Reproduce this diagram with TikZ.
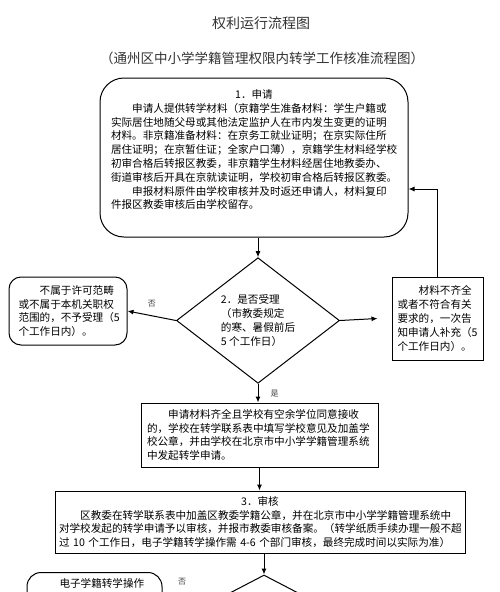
\documentclass[tikz,border=0pt]{standalone}
\usepackage{fontspec}
\setmainfont{Noto Sans CJK SC}
\usetikzlibrary{shapes.geometric,arrows.meta}

\begin{document}
\begin{tikzpicture}[x=1pt, y=-1pt, line width=1pt,
  txt/.style={font=\fontsize{10.6}{13.8}\selectfont, align=left, inner sep=0pt},
  box/.style={draw, rectangle, inner sep=0pt},
  roundbox/.style={draw, rectangle, rounded corners=18pt, inner sep=0pt},
  decision/.style={draw, diamond, inner sep=0pt},
  arr/.style={-{Latex[length=6pt,width=5pt]}},
  small/.style={font=\fontsize{8}{9}\selectfont, text=black!75}]
	\useasboundingbox (0,0) rectangle (500,592);
	\clip (0,0) rectangle (500,592);

	% titles
	\node[font=\fontsize{14}{16}\selectfont, text=black!80] (title) at (261,23) {权利运行流程图};
	\node[font=\fontsize{13.5}{15}\selectfont, text=black!80] (subtitle) at (262,58) {（通州区中小学学籍管理权限内转学工作核准流程图）};

	% 1. apply
	\node[roundbox, rounded corners=24pt, minimum width=308pt, minimum height=159pt] (apply) at (254,157.5) {};
	\node[txt, text width=286pt, anchor=north] (applytxt) at (254,89) {\makebox[286pt]{1．申请}\\
		\hspace*{2em}申请人提供转学材料（京籍学生准备材料：学生户籍或\\
		实际居住地随父母或其他法定监护人在市内发生变更的证明\\
		材料。非京籍准备材料：在京务工就业证明；在京实际住所\\
		居住证明；在京暂住证；全家户口薄），京籍学生材料经学校\\
		初审合格后转报区教委，非京籍学生材料经居住地教委办、\\
		街道审核后开具在京就读证明，学校初审合格后转报区教委。\\
		\hspace*{2em}申报材料原件由学校审核并及时返还申请人，材料复印\\
		件报区教委审核后由学校留存。};

	% 2. accept or not
	\node[decision, txt, minimum width=163pt, minimum height=118pt] (accept) at (258,320.5) {2．是否受理\\（市教委规定\\的寒、暑假前后\\5 个工作日）};
	\node[roundbox, txt, rounded corners=12pt, minimum width=118pt, minimum height=68pt, text width=99pt] (reject) at (68,311) {\hspace*{2em}不属于许可范畴\\或不属于本机关职权\\范围的，不予受理（5\\个工作日内）。};
	\node[box, txt, minimum width=91pt, minimum height=83pt, text width=80pt] (supply) at (437.5,318.5) {\hspace*{2em}材料不齐全\\或者不符合有关\\要求的，一次告\\知申请人补充（5\\个工作日内）。};

	\node[box, txt, minimum width=237pt, minimum height=64pt, text width=225pt] (school) at (259.5,435) {\hspace*{2em}申请材料齐全且学校有空余学位同意接收\\的，学校在转学联系表中填写学校意见及加盖学\\校公章，并由学校在北京市中小学学籍管理系统\\中发起转学申请。};

	% 3. review
	\node[box, txt, minimum width=410pt, minimum height=62pt, text width=402pt] (review) at (260,522) {\makebox[402pt]{3．审核}\\
		\hspace*{2em}区教委在转学联系表中加盖区教委学籍公章，并在北京市中小学学籍管理系统中\\
		对学校发起的转学申请予以审核，并报市教委审核备案。（转学纸质手续办理一般不超\\
		过 10 个工作日，电子学籍转学操作需 4-6 个部门审核，最终完成时间以实际为准）};

	\node[decision, minimum width=230pt, minimum height=120pt] (check) at (264,635) {};
	\node[roundbox, rounded corners=14pt, minimum width=135pt, minimum height=70pt, anchor=north] (ebox) at (94.5,572) {};
	\node[txt, anchor=west] (eboxtxt) at (59,583) {电子学籍转学操作};
	\node[small] (no2) at (182,582) {否};

	% connectors
	\draw[arr] (accept.north |- apply.south) -- (accept.north);
	\draw[arr] (accept.west) -- node[small, above=5pt] (no1) {否} (reject.east);
	\draw[arr] (accept.east) -- ([xshift=-14pt]supply.west);
	\draw[arr] (supply.north) |- ([yshift=-31.5pt]apply.east);
	\draw[arr] (accept.south) -- node[small, right=12pt, inner sep=0pt] (yes1) {是} (accept.south |- school.north);
	\draw[arr] (school.south) -- (school.south |- review.north);
	\draw[arr] (check.north |- review.south) -- (check.north);
\end{tikzpicture}
\end{document}
